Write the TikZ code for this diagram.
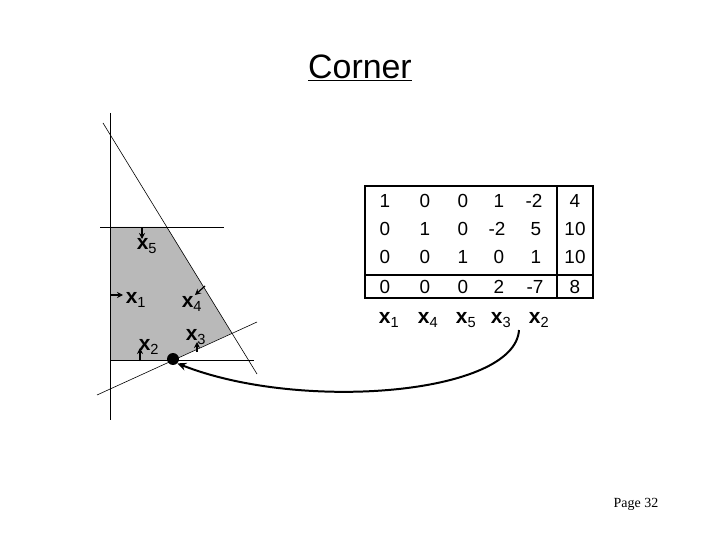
\documentclass[tikz,border=0pt]{standalone}
\usepackage{fontspec}
\usetikzlibrary{arrows.meta}
\setmainfont{Liberation Sans}
\newfontfamily\serifpage{Liberation Serif}
\newcommand{\xv}[1]{\textbf{x}\textsubscript{#1}}
\begin{document}
\begin{tikzpicture}[x=1bp,y=-1bp,
  thin line/.style={line width=0.6pt},
  cell/.style={font=\fontsize{19}{20}\selectfont, inner sep=0pt},
  var/.style={font=\fontsize{21}{22}\selectfont, inner sep=0pt},
  push/.style={-{Stealth[length=6pt,width=6pt]}, line width=1.2pt}]
\useasboundingbox (0,0) rectangle (720,540);
% title
\node (title) at (360,68) {\fontsize{34}{38}\selectfont\underline{Corner}};
% feasible region
\fill[gray!55] (110,227) -- (167,227) -- (232,333) -- (173,360) -- (110,360) -- cycle;
\coordinate (ax1) at (110,113); \coordinate (ax2) at (110,420);
\draw[thin line] (ax1) -- (ax2);
\coordinate (d1) at (103,123); \coordinate (d2) at (257,374);
\draw[thin line] (d1) -- (d2);
\coordinate (h1) at (100,227); \coordinate (h2) at (224,227);
\draw[thin line] (h1) -- (h2);
\coordinate (b1) at (110,360); \coordinate (b2) at (254,360);
\draw[thin line] (b1) -- (b2);
\coordinate (s1) at (97,395); \coordinate (s2) at (257,322);
\draw[thin line] (s1) -- (s2);
\node[circle, fill=black, inner sep=0pt, minimum size=12pt] (dot) at (173,359) {};
% labels
\node[var] (v5) at (147,246) {\xv{5}};
\node[var] (v1) at (136,300) {\xv{1}};
\node[var] (v2) at (149,347) {\xv{2}};
\node[var] (v4) at (192,304) {\xv{4}};
\node[var] (v3) at (196,337) {\xv{3}};
\coordinate (a5a) at (142,228); \coordinate (a5b) at (142,239);
\draw[push] (a5a) -- (a5b);
\coordinate (a1a) at (111,295); \coordinate (a1b) at (123,295);
\draw[push] (a1a) -- (a1b);
\coordinate (a2a) at (140,361); \coordinate (a2b) at (140,348);
\draw[push] (a2a) -- (a2b);
\coordinate (a4a) at (205,286); \coordinate (a4b) at (195,295);
\draw[push] (a4a) -- (a4b);
\coordinate (a3a) at (197,352); \coordinate (a3b) at (197,342);
\draw[push] (a3a) -- (a3b);
% table
\draw[line width=1.2pt] (365,186) rectangle (593,298);
\draw[line width=1.2pt] (365,275) -- (593,275);
\draw[line width=1.2pt] (557,186) -- (557,298);
\node[cell] (c11) at (385,201) {1}; \node[cell] (c12) at (425,201) {0}; \node[cell] (c13) at (463,201) {0}; \node[cell] (c14) at (499,201) {1}; \node[cell] (c15) at (534,201) {-2}; \node[cell] (c16) at (575,201) {4};
\node[cell] (c21) at (385,229) {0}; \node[cell] (c22) at (425,229) {1}; \node[cell] (c23) at (463,229) {0}; \node[cell] (c24) at (497,229) {-2}; \node[cell] (c25) at (536,229) {5}; \node[cell] (c26) at (575,229) {10};
\node[cell] (c31) at (385,257) {0}; \node[cell] (c32) at (425,257) {0}; \node[cell] (c33) at (463,257) {1}; \node[cell] (c34) at (499,257) {0}; \node[cell] (c35) at (536,257) {1}; \node[cell] (c36) at (575,257) {10};
\node[cell] (c41) at (385,287) {0}; \node[cell] (c42) at (425,287) {0}; \node[cell] (c43) at (463,287) {0}; \node[cell] (c44) at (499,287) {2}; \node[cell] (c45) at (535,287) {-7}; \node[cell] (c46) at (575,287) {8};
\node[var] (t1) at (389,320) {\xv{1}};
\node[var] (t4) at (428,320) {\xv{4}};
\node[var] (t5) at (466,320) {\xv{5}};
\node[var] (t3) at (501,320) {\xv{3}};
\node[var] (t2) at (539,320) {\xv{2}};
\coordinate (cs) at (519,330);
\draw[line width=2pt, -{Stealth[length=9pt,width=8pt]}] (cs) .. controls (515,395) and (300,412) .. (dot.south east);
\node (page) at (636,504) {\serifpage\fontsize{14}{16}\selectfont Page 32};
\end{tikzpicture}
\end{document}
